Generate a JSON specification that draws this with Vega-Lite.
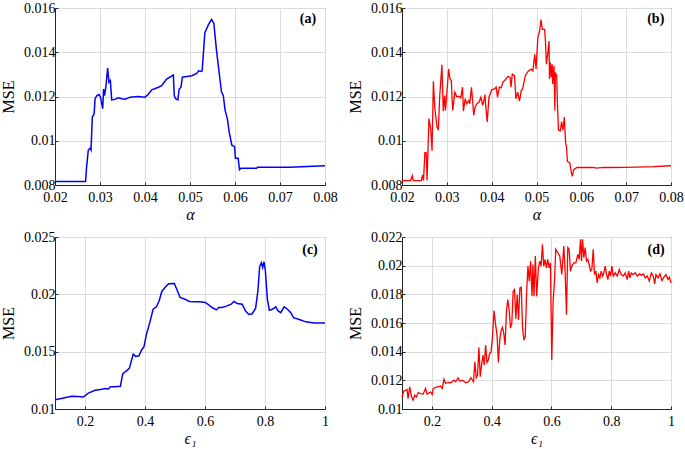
{
  "$schema": "https://vega.github.io/schema/vega-lite/v6.json",
  "padding": {"left": 0, "top": 0, "right": 0, "bottom": 0},
  "datasets": {
    "a": [
      {"alpha": 0.0200, "mse": 0.00816}, {"alpha": 0.0268, "mse": 0.00816}, {"alpha": 0.0270, "mse": 0.00876},
      {"alpha": 0.0274, "mse": 0.00958}, {"alpha": 0.0278, "mse": 0.00966}, {"alpha": 0.0280, "mse": 0.00958},
      {"alpha": 0.0283, "mse": 0.01107}, {"alpha": 0.0287, "mse": 0.01122}, {"alpha": 0.0289, "mse": 0.0119},
      {"alpha": 0.0293, "mse": 0.01204}, {"alpha": 0.0298, "mse": 0.01209}, {"alpha": 0.0301, "mse": 0.01197},
      {"alpha": 0.0306, "mse": 0.01145}, {"alpha": 0.0308, "mse": 0.01234}, {"alpha": 0.0310, "mse": 0.01204},
      {"alpha": 0.0313, "mse": 0.01242}, {"alpha": 0.0317, "mse": 0.01328}, {"alpha": 0.0320, "mse": 0.01264},
      {"alpha": 0.0323, "mse": 0.01272}, {"alpha": 0.0326, "mse": 0.01185}, {"alpha": 0.0333, "mse": 0.01187},
      {"alpha": 0.0341, "mse": 0.01194}, {"alpha": 0.0348, "mse": 0.0119}, {"alpha": 0.0356, "mse": 0.01188},
      {"alpha": 0.0367, "mse": 0.01197}, {"alpha": 0.0385, "mse": 0.012}, {"alpha": 0.0400, "mse": 0.01197},
      {"alpha": 0.0407, "mse": 0.01209}, {"alpha": 0.0415, "mse": 0.0123}, {"alpha": 0.0430, "mse": 0.01242},
      {"alpha": 0.0437, "mse": 0.01249}, {"alpha": 0.0448, "mse": 0.01279}, {"alpha": 0.0463, "mse": 0.01297},
      {"alpha": 0.0465, "mse": 0.01204}, {"alpha": 0.0468, "mse": 0.0119}, {"alpha": 0.0473, "mse": 0.01185},
      {"alpha": 0.0476, "mse": 0.01234}, {"alpha": 0.0480, "mse": 0.01242}, {"alpha": 0.0483, "mse": 0.01287},
      {"alpha": 0.0493, "mse": 0.0129}, {"alpha": 0.0504, "mse": 0.01294}, {"alpha": 0.0515, "mse": 0.01304},
      {"alpha": 0.0519, "mse": 0.01316}, {"alpha": 0.0526, "mse": 0.01313}, {"alpha": 0.0527, "mse": 0.01316},
      {"alpha": 0.0533, "mse": 0.01488}, {"alpha": 0.0541, "mse": 0.01525}, {"alpha": 0.0548, "mse": 0.01548},
      {"alpha": 0.0553, "mse": 0.0153}, {"alpha": 0.0559, "mse": 0.01406}, {"alpha": 0.0570, "mse": 0.0122},
      {"alpha": 0.0574, "mse": 0.01205}, {"alpha": 0.0578, "mse": 0.01137}, {"alpha": 0.0583, "mse": 0.011},
      {"alpha": 0.0587, "mse": 0.0104}, {"alpha": 0.0593, "mse": 0.0098}, {"alpha": 0.0599, "mse": 0.00973},
      {"alpha": 0.0601, "mse": 0.00921}, {"alpha": 0.0607, "mse": 0.00921}, {"alpha": 0.0610, "mse": 0.00869},
      {"alpha": 0.0613, "mse": 0.00876}, {"alpha": 0.0648, "mse": 0.00876}, {"alpha": 0.0650, "mse": 0.0088},
      {"alpha": 0.0722, "mse": 0.0088}, {"alpha": 0.0800, "mse": 0.00887}
    ],
    "b": [
      {"alpha": 0.0200, "mse": 0.0082}, {"alpha": 0.0219, "mse": 0.0082}, {"alpha": 0.0223, "mse": 0.00842},
      {"alpha": 0.0225, "mse": 0.0082}, {"alpha": 0.0243, "mse": 0.0082}, {"alpha": 0.0246, "mse": 0.00846},
      {"alpha": 0.0248, "mse": 0.0082}, {"alpha": 0.0251, "mse": 0.00946}, {"alpha": 0.0254, "mse": 0.00946},
      {"alpha": 0.0256, "mse": 0.0082}, {"alpha": 0.0260, "mse": 0.0110}, {"alpha": 0.0264, "mse": 0.01055},
      {"alpha": 0.0267, "mse": 0.00955}, {"alpha": 0.0270, "mse": 0.01269}, {"alpha": 0.0273, "mse": 0.01152},
      {"alpha": 0.0278, "mse": 0.01063}, {"alpha": 0.0281, "mse": 0.01048}, {"alpha": 0.0284, "mse": 0.01197},
      {"alpha": 0.0289, "mse": 0.01343}, {"alpha": 0.0292, "mse": 0.01134}, {"alpha": 0.0295, "mse": 0.01204},
      {"alpha": 0.0297, "mse": 0.01137}, {"alpha": 0.0301, "mse": 0.01242}, {"alpha": 0.0304, "mse": 0.01324},
      {"alpha": 0.0307, "mse": 0.01279}, {"alpha": 0.0310, "mse": 0.01272}, {"alpha": 0.0313, "mse": 0.01137},
      {"alpha": 0.0318, "mse": 0.01219}, {"alpha": 0.0322, "mse": 0.012}, {"alpha": 0.0328, "mse": 0.012},
      {"alpha": 0.0331, "mse": 0.01194}, {"alpha": 0.0335, "mse": 0.01242}, {"alpha": 0.0337, "mse": 0.01134},
      {"alpha": 0.0341, "mse": 0.0119}, {"alpha": 0.0344, "mse": 0.01167}, {"alpha": 0.0349, "mse": 0.01182},
      {"alpha": 0.0351, "mse": 0.01167}, {"alpha": 0.0355, "mse": 0.01242}, {"alpha": 0.0360, "mse": 0.01115},
      {"alpha": 0.0363, "mse": 0.01152}, {"alpha": 0.0367, "mse": 0.01167}, {"alpha": 0.0372, "mse": 0.01175},
      {"alpha": 0.0376, "mse": 0.01197}, {"alpha": 0.0380, "mse": 0.0116}, {"alpha": 0.0382, "mse": 0.01175},
      {"alpha": 0.0385, "mse": 0.01209}, {"alpha": 0.0387, "mse": 0.01152}, {"alpha": 0.0390, "mse": 0.01085},
      {"alpha": 0.0394, "mse": 0.01197}, {"alpha": 0.0400, "mse": 0.0123}, {"alpha": 0.0406, "mse": 0.01234},
      {"alpha": 0.0410, "mse": 0.01242}, {"alpha": 0.0413, "mse": 0.01197}, {"alpha": 0.0417, "mse": 0.01242},
      {"alpha": 0.0421, "mse": 0.01239}, {"alpha": 0.0425, "mse": 0.01264}, {"alpha": 0.0430, "mse": 0.01275},
      {"alpha": 0.0436, "mse": 0.0129}, {"alpha": 0.0441, "mse": 0.01287}, {"alpha": 0.0443, "mse": 0.01242},
      {"alpha": 0.0446, "mse": 0.01301}, {"alpha": 0.0451, "mse": 0.01294}, {"alpha": 0.0454, "mse": 0.0119},
      {"alpha": 0.0458, "mse": 0.0122}, {"alpha": 0.0462, "mse": 0.01179}, {"alpha": 0.0466, "mse": 0.01227},
      {"alpha": 0.0469, "mse": 0.01234}, {"alpha": 0.0475, "mse": 0.01294}, {"alpha": 0.0481, "mse": 0.01313},
      {"alpha": 0.0488, "mse": 0.01324}, {"alpha": 0.0492, "mse": 0.01316}, {"alpha": 0.0496, "mse": 0.01391},
      {"alpha": 0.0499, "mse": 0.01324}, {"alpha": 0.0503, "mse": 0.01466}, {"alpha": 0.0507, "mse": 0.01496},
      {"alpha": 0.0510, "mse": 0.01548}, {"alpha": 0.0513, "mse": 0.01503}, {"alpha": 0.0518, "mse": 0.01503},
      {"alpha": 0.0520, "mse": 0.01451}, {"alpha": 0.0522, "mse": 0.01346}, {"alpha": 0.0525, "mse": 0.01391},
      {"alpha": 0.0528, "mse": 0.01451}, {"alpha": 0.0529, "mse": 0.01279}, {"alpha": 0.0531, "mse": 0.01354},
      {"alpha": 0.0533, "mse": 0.01287}, {"alpha": 0.0535, "mse": 0.01346}, {"alpha": 0.0536, "mse": 0.01257},
      {"alpha": 0.0539, "mse": 0.01339}, {"alpha": 0.0541, "mse": 0.01137}, {"alpha": 0.0542, "mse": 0.01309},
      {"alpha": 0.0545, "mse": 0.01294}, {"alpha": 0.0547, "mse": 0.01152}, {"alpha": 0.0549, "mse": 0.01048},
      {"alpha": 0.0553, "mse": 0.01045}, {"alpha": 0.0556, "mse": 0.01085}, {"alpha": 0.0559, "mse": 0.01048},
      {"alpha": 0.0562, "mse": 0.01107}, {"alpha": 0.0565, "mse": 0.00988}, {"alpha": 0.0567, "mse": 0.00973},
      {"alpha": 0.0569, "mse": 0.00906}, {"alpha": 0.0574, "mse": 0.00901}, {"alpha": 0.0578, "mse": 0.00854},
      {"alpha": 0.0580, "mse": 0.00839}, {"alpha": 0.0583, "mse": 0.00869}, {"alpha": 0.0586, "mse": 0.00873},
      {"alpha": 0.0590, "mse": 0.00879}, {"alpha": 0.0611, "mse": 0.00879}, {"alpha": 0.0626, "mse": 0.0088},
      {"alpha": 0.0634, "mse": 0.00876}, {"alpha": 0.0649, "mse": 0.0088}, {"alpha": 0.0664, "mse": 0.00879},
      {"alpha": 0.0694, "mse": 0.0088}, {"alpha": 0.0724, "mse": 0.00881}, {"alpha": 0.0761, "mse": 0.00883},
      {"alpha": 0.0800, "mse": 0.00887}
    ],
    "c": [
      {"eps": 0.1, "mse": 0.0108}, {"eps": 0.1213, "mse": 0.01092}, {"eps": 0.1551, "mse": 0.01112},
      {"eps": 0.1775, "mse": 0.0111}, {"eps": 0.1944, "mse": 0.01104}, {"eps": 0.2112, "mse": 0.01139},
      {"eps": 0.2337, "mse": 0.01163}, {"eps": 0.2562, "mse": 0.01172}, {"eps": 0.2674, "mse": 0.01178},
      {"eps": 0.2787, "mse": 0.01175}, {"eps": 0.2843, "mse": 0.01195}, {"eps": 0.3011, "mse": 0.01195},
      {"eps": 0.318, "mse": 0.01198}, {"eps": 0.3258, "mse": 0.01308}, {"eps": 0.3404, "mse": 0.01337},
      {"eps": 0.3483, "mse": 0.01358}, {"eps": 0.3607, "mse": 0.01479}, {"eps": 0.3685, "mse": 0.01459},
      {"eps": 0.3798, "mse": 0.01464}, {"eps": 0.3888, "mse": 0.01515}, {"eps": 0.3966, "mse": 0.01544},
      {"eps": 0.4045, "mse": 0.01648}, {"eps": 0.4157, "mse": 0.01751}, {"eps": 0.427, "mse": 0.0187},
      {"eps": 0.4382, "mse": 0.01891}, {"eps": 0.4472, "mse": 0.01944}, {"eps": 0.4562, "mse": 0.02027},
      {"eps": 0.4697, "mse": 0.02068}, {"eps": 0.4787, "mse": 0.02092}, {"eps": 0.4978, "mse": 0.02095},
      {"eps": 0.5056, "mse": 0.02047}, {"eps": 0.5169, "mse": 0.01973}, {"eps": 0.5315, "mse": 0.01959},
      {"eps": 0.5483, "mse": 0.01938}, {"eps": 0.5676, "mse": 0.01935}, {"eps": 0.5844, "mse": 0.01935},
      {"eps": 0.6011, "mse": 0.01929}, {"eps": 0.6123, "mse": 0.01908}, {"eps": 0.6235, "mse": 0.01885},
      {"eps": 0.638, "mse": 0.01864}, {"eps": 0.6458, "mse": 0.01885}, {"eps": 0.657, "mse": 0.01885},
      {"eps": 0.6737, "mse": 0.01899}, {"eps": 0.6872, "mse": 0.01914}, {"eps": 0.6961, "mse": 0.01938},
      {"eps": 0.7073, "mse": 0.0192}, {"eps": 0.724, "mse": 0.01914}, {"eps": 0.7352, "mse": 0.01855},
      {"eps": 0.7464, "mse": 0.01825}, {"eps": 0.7575, "mse": 0.01831}, {"eps": 0.7687, "mse": 0.01879},
      {"eps": 0.7765, "mse": 0.02033}, {"eps": 0.7821, "mse": 0.0224}, {"eps": 0.7877, "mse": 0.02275},
      {"eps": 0.7922, "mse": 0.02234}, {"eps": 0.7966, "mse": 0.02284}, {"eps": 0.8011, "mse": 0.0221},
      {"eps": 0.8078, "mse": 0.01959}, {"eps": 0.8145, "mse": 0.01861}, {"eps": 0.8246, "mse": 0.0187},
      {"eps": 0.8358, "mse": 0.01891}, {"eps": 0.8436, "mse": 0.01855}, {"eps": 0.8525, "mse": 0.0184},
      {"eps": 0.8637, "mse": 0.01891}, {"eps": 0.8749, "mse": 0.0187}, {"eps": 0.886, "mse": 0.0184},
      {"eps": 0.895, "mse": 0.01796}, {"eps": 0.914, "mse": 0.01781}, {"eps": 0.9363, "mse": 0.0176},
      {"eps": 0.9642, "mse": 0.01749}, {"eps": 1.0, "mse": 0.01749}
    ],
    "d": [
      {"eps": 0.1, "mse": 0.01084}, {"eps": 0.1056, "mse": 0.01124}, {"eps": 0.1112, "mse": 0.01131},
      {"eps": 0.1169, "mse": 0.01136}, {"eps": 0.1202, "mse": 0.01073}, {"eps": 0.1258, "mse": 0.01154},
      {"eps": 0.1315, "mse": 0.01089}, {"eps": 0.1371, "mse": 0.01061}, {"eps": 0.1427, "mse": 0.01096},
      {"eps": 0.1483, "mse": 0.01084}, {"eps": 0.1539, "mse": 0.01115}, {"eps": 0.1618, "mse": 0.01108},
      {"eps": 0.1708, "mse": 0.01105}, {"eps": 0.1787, "mse": 0.01143}, {"eps": 0.1843, "mse": 0.01103},
      {"eps": 0.1955, "mse": 0.01119}, {"eps": 0.2011, "mse": 0.01101}, {"eps": 0.2045, "mse": 0.01143},
      {"eps": 0.218, "mse": 0.01154}, {"eps": 0.2292, "mse": 0.01159}, {"eps": 0.2348, "mse": 0.01143},
      {"eps": 0.2404, "mse": 0.01208}, {"eps": 0.2461, "mse": 0.01178}, {"eps": 0.2539, "mse": 0.01185},
      {"eps": 0.2629, "mse": 0.01183}, {"eps": 0.2742, "mse": 0.01201}, {"eps": 0.2798, "mse": 0.0119},
      {"eps": 0.2876, "mse": 0.01218}, {"eps": 0.2933, "mse": 0.01194}, {"eps": 0.3022, "mse": 0.01201},
      {"eps": 0.3135, "mse": 0.01183}, {"eps": 0.3225, "mse": 0.0119}, {"eps": 0.3303, "mse": 0.01218},
      {"eps": 0.3393, "mse": 0.0119}, {"eps": 0.3438, "mse": 0.0133}, {"eps": 0.3483, "mse": 0.01218},
      {"eps": 0.3528, "mse": 0.01236}, {"eps": 0.3573, "mse": 0.01428}, {"eps": 0.3618, "mse": 0.01225},
      {"eps": 0.3663, "mse": 0.01307}, {"eps": 0.3708, "mse": 0.01377}, {"eps": 0.3753, "mse": 0.01307},
      {"eps": 0.3798, "mse": 0.01447}, {"eps": 0.3843, "mse": 0.01325}, {"eps": 0.3888, "mse": 0.01342},
      {"eps": 0.3933, "mse": 0.01388}, {"eps": 0.3978, "mse": 0.01395}, {"eps": 0.4022, "mse": 0.01489},
      {"eps": 0.4079, "mse": 0.01686}, {"eps": 0.4124, "mse": 0.01599}, {"eps": 0.418, "mse": 0.01517},
      {"eps": 0.4225, "mse": 0.01325}, {"eps": 0.427, "mse": 0.01482}, {"eps": 0.4315, "mse": 0.01545},
      {"eps": 0.436, "mse": 0.01569}, {"eps": 0.4404, "mse": 0.01529}, {"eps": 0.4449, "mse": 0.01447},
      {"eps": 0.4494, "mse": 0.01681}, {"eps": 0.4539, "mse": 0.01763}, {"eps": 0.4584, "mse": 0.01693},
      {"eps": 0.4629, "mse": 0.01564}, {"eps": 0.4674, "mse": 0.01599}, {"eps": 0.4719, "mse": 0.01821},
      {"eps": 0.4764, "mse": 0.01833}, {"eps": 0.4809, "mse": 0.01629}, {"eps": 0.4854, "mse": 0.01798},
      {"eps": 0.4899, "mse": 0.01622}, {"eps": 0.4944, "mse": 0.01845}, {"eps": 0.4989, "mse": 0.01849},
      {"eps": 0.5034, "mse": 0.01564}, {"eps": 0.5079, "mse": 0.01482}, {"eps": 0.5124, "mse": 0.01505},
      {"eps": 0.5169, "mse": 0.0181}, {"eps": 0.5213, "mse": 0.01997}, {"eps": 0.5258, "mse": 0.01892},
      {"eps": 0.5303, "mse": 0.02032}, {"eps": 0.5348, "mse": 0.01786}, {"eps": 0.5382, "mse": 0.02008},
      {"eps": 0.5416, "mse": 0.01786}, {"eps": 0.5461, "mse": 0.02067}, {"eps": 0.5506, "mse": 0.01786},
      {"eps": 0.5564, "mse": 0.01985}, {"eps": 0.5609, "mse": 0.02032}, {"eps": 0.5654, "mse": 0.01997},
      {"eps": 0.5698, "mse": 0.02149}, {"eps": 0.5743, "mse": 0.01997}, {"eps": 0.5788, "mse": 0.02044},
      {"eps": 0.5832, "mse": 0.01985}, {"eps": 0.5877, "mse": 0.02044}, {"eps": 0.5922, "mse": 0.01985},
      {"eps": 0.5966, "mse": 0.0202}, {"eps": 0.6011, "mse": 0.01342}, {"eps": 0.6056, "mse": 0.01751},
      {"eps": 0.6101, "mse": 0.01892}, {"eps": 0.6145, "mse": 0.02114}, {"eps": 0.6212, "mse": 0.0209},
      {"eps": 0.6279, "mse": 0.02067}, {"eps": 0.6346, "mse": 0.01938}, {"eps": 0.6413, "mse": 0.02137},
      {"eps": 0.6458, "mse": 0.01962}, {"eps": 0.6503, "mse": 0.01658}, {"eps": 0.6547, "mse": 0.02126},
      {"eps": 0.6592, "mse": 0.02114}, {"eps": 0.6637, "mse": 0.01962}, {"eps": 0.6682, "mse": 0.01997},
      {"eps": 0.6749, "mse": 0.0202}, {"eps": 0.6816, "mse": 0.0202}, {"eps": 0.6883, "mse": 0.02079},
      {"eps": 0.6927, "mse": 0.02044}, {"eps": 0.6972, "mse": 0.02184}, {"eps": 0.7006, "mse": 0.02032},
      {"eps": 0.7039, "mse": 0.02184}, {"eps": 0.7084, "mse": 0.02055}, {"eps": 0.7128, "mse": 0.02126},
      {"eps": 0.7173, "mse": 0.02032}, {"eps": 0.7218, "mse": 0.02044}, {"eps": 0.7263, "mse": 0.02008},
      {"eps": 0.7307, "mse": 0.01962}, {"eps": 0.7352, "mse": 0.01973}, {"eps": 0.7397, "mse": 0.02114},
      {"eps": 0.7441, "mse": 0.01938}, {"eps": 0.7486, "mse": 0.01962}, {"eps": 0.7531, "mse": 0.0188},
      {"eps": 0.7575, "mse": 0.01938}, {"eps": 0.762, "mse": 0.01915}, {"eps": 0.7665, "mse": 0.01962},
      {"eps": 0.771, "mse": 0.01927}, {"eps": 0.7754, "mse": 0.0195}, {"eps": 0.7799, "mse": 0.01997},
      {"eps": 0.7844, "mse": 0.01938}, {"eps": 0.7888, "mse": 0.01903}, {"eps": 0.7933, "mse": 0.01962},
      {"eps": 0.7978, "mse": 0.01927}, {"eps": 0.8022, "mse": 0.01997}, {"eps": 0.8067, "mse": 0.01927},
      {"eps": 0.8134, "mse": 0.0195}, {"eps": 0.8201, "mse": 0.01927}, {"eps": 0.8268, "mse": 0.01973},
      {"eps": 0.8335, "mse": 0.01938}, {"eps": 0.8402, "mse": 0.01927}, {"eps": 0.8469, "mse": 0.0195},
      {"eps": 0.8536, "mse": 0.01903}, {"eps": 0.8581, "mse": 0.01962}, {"eps": 0.8626, "mse": 0.01915},
      {"eps": 0.867, "mse": 0.0195}, {"eps": 0.8737, "mse": 0.01938}, {"eps": 0.8804, "mse": 0.0195},
      {"eps": 0.8872, "mse": 0.01927}, {"eps": 0.8939, "mse": 0.01943}, {"eps": 0.9006, "mse": 0.01934},
      {"eps": 0.9073, "mse": 0.01943}, {"eps": 0.914, "mse": 0.01915}, {"eps": 0.9207, "mse": 0.01927},
      {"eps": 0.9274, "mse": 0.01892}, {"eps": 0.9341, "mse": 0.0195}, {"eps": 0.9408, "mse": 0.01927},
      {"eps": 0.9453, "mse": 0.01873}, {"eps": 0.9497, "mse": 0.01938}, {"eps": 0.9564, "mse": 0.01915},
      {"eps": 0.9631, "mse": 0.01943}, {"eps": 0.9698, "mse": 0.01896}, {"eps": 0.9765, "mse": 0.0192},
      {"eps": 0.9832, "mse": 0.01938}, {"eps": 0.9899, "mse": 0.01903}, {"eps": 0.9944, "mse": 0.0192},
      {"eps": 1.0, "mse": 0.0188}
    ]
  },
  "config": {
    "font": "Liberation Serif",
    "view": {"stroke": "#262626", "strokeWidth": 1},
    "axis": {
      "labelFont": "Liberation Serif", "labelFontSize": 14, "labelColor": "#000",
      "titleFont": "Liberation Serif", "titleFontSize": 16, "titleFontWeight": "normal", "titleColor": "#000",
      "domainColor": "#262626", "gridColor": "#dcdcdc", "gridWidth": 1,
      "tickColor": "#262626", "tickSize": -3, "format": "~g", "labelFlush": false, "labelOverlap": false,
      "tickCount": 12
    },
    "axisY": {"titlePadding": 7, "labelPadding": 3, "labelFont": "Liberation Serif"},
    "axisX": {"titlePadding": 2, "labelPadding": 8, "labelFont": "Liberation Serif"}
  },
  "columns": 2,
  "spacing": {"row": 6, "column": 9},
  "concat": [
    {
      "width": 270, "height": 177,
      "layer": [
        {
          "data": {"name": "a"},
          "mark": {"type": "line", "color": "#0000ff", "strokeWidth": 1.5},
          "encoding": {
            "x": {"field": "alpha", "type": "quantitative", "scale": {"domain": [0.02, 0.08], "nice": false},
                  "axis": {"values": [0.02, 0.03, 0.04, 0.05, 0.06, 0.07, 0.08], "tickCount": 12, "title": "α", "titleFontStyle": "italic"}},
            "y": {"field": "mse", "type": "quantitative", "scale": {"domain": [0.008, 0.016], "nice": false, "zero": false},
                  "axis": {"values": [0.008, 0.01, 0.012, 0.014, 0.016], "tickCount": 12, "title": "MSE"}}
          }
        },
        {
          "data": {"values": [{"alpha": 0.0762, "mse": 0.0155, "label": "(a)"}]},
          "mark": {"type": "text", "fontWeight": "bold", "fontSize": 14, "font": "Liberation Serif", "align": "center", "baseline": "middle"},
          "encoding": {
            "x": {"field": "alpha", "type": "quantitative"},
            "y": {"field": "mse", "type": "quantitative"},
            "text": {"field": "label"}
          }
        }
      ]
    },
    {
      "width": 269, "height": 177,
      "layer": [
        {
          "data": {"name": "b"},
          "mark": {"type": "line", "color": "#ff0000", "strokeWidth": 1.3},
          "encoding": {
            "x": {"field": "alpha", "type": "quantitative", "scale": {"domain": [0.02, 0.08], "nice": false},
                  "axis": {"values": [0.02, 0.03, 0.04, 0.05, 0.06, 0.07, 0.08], "tickCount": 12, "title": "α", "titleFontStyle": "italic"}},
            "y": {"field": "mse", "type": "quantitative", "scale": {"domain": [0.008, 0.016], "nice": false, "zero": false},
                  "axis": {"values": [0.008, 0.01, 0.012, 0.014, 0.016], "tickCount": 12, "title": "MSE"}}
          }
        },
        {
          "data": {"values": [{"alpha": 0.0766, "mse": 0.0155, "label": "(b)"}]},
          "mark": {"type": "text", "fontWeight": "bold", "fontSize": 14, "font": "Liberation Serif", "align": "center", "baseline": "middle"},
          "encoding": {
            "x": {"field": "alpha", "type": "quantitative"},
            "y": {"field": "mse", "type": "quantitative"},
            "text": {"field": "label"}
          }
        }
      ]
    },
    {
      "width": 270, "height": 172,
      "layer": [
        {
          "data": {"name": "c"},
          "mark": {"type": "line", "color": "#0000ff", "strokeWidth": 1.5},
          "encoding": {
            "x": {"field": "eps", "type": "quantitative", "scale": {"domain": [0.1, 1], "nice": false},
                  "axis": {"values": [0.2, 0.4, 0.6, 0.8, 1], "tickCount": 12, "title": "ϵ₁", "titleFontStyle": "italic"}},
            "y": {"field": "mse", "type": "quantitative", "scale": {"domain": [0.01, 0.025], "nice": false, "zero": false},
                  "axis": {"values": [0.01, 0.015, 0.02, 0.025], "tickCount": 12, "title": "MSE"}}
          }
        },
        {
          "data": {"values": [{"eps": 0.95, "mse": 0.0239, "label": "(c)"}]},
          "mark": {"type": "text", "fontWeight": "bold", "fontSize": 14, "font": "Liberation Serif", "align": "center", "baseline": "middle"},
          "encoding": {
            "x": {"field": "eps", "type": "quantitative"},
            "y": {"field": "mse", "type": "quantitative"},
            "text": {"field": "label"}
          }
        }
      ]
    },
    {
      "width": 269, "height": 172,
      "layer": [
        {
          "data": {"name": "d"},
          "mark": {"type": "line", "color": "#ff0000", "strokeWidth": 1.3},
          "encoding": {
            "x": {"field": "eps", "type": "quantitative", "scale": {"domain": [0.1, 1], "nice": false},
                  "axis": {"values": [0.2, 0.4, 0.6, 0.8, 1], "tickCount": 12, "title": "ϵ₁", "titleFontStyle": "italic"}},
            "y": {"field": "mse", "type": "quantitative", "scale": {"domain": [0.01, 0.022], "nice": false, "zero": false},
                  "axis": {"values": [0.01, 0.012, 0.014, 0.016, 0.018, 0.02, 0.022], "tickCount": 12, "title": "MSE"}}
          }
        },
        {
          "data": {"values": [{"eps": 0.95, "mse": 0.0211, "label": "(d)"}]},
          "mark": {"type": "text", "fontWeight": "bold", "fontSize": 14, "font": "Liberation Serif", "align": "center", "baseline": "middle"},
          "encoding": {
            "x": {"field": "eps", "type": "quantitative"},
            "y": {"field": "mse", "type": "quantitative"},
            "text": {"field": "label"}
          }
        }
      ]
    }
  ]
}
